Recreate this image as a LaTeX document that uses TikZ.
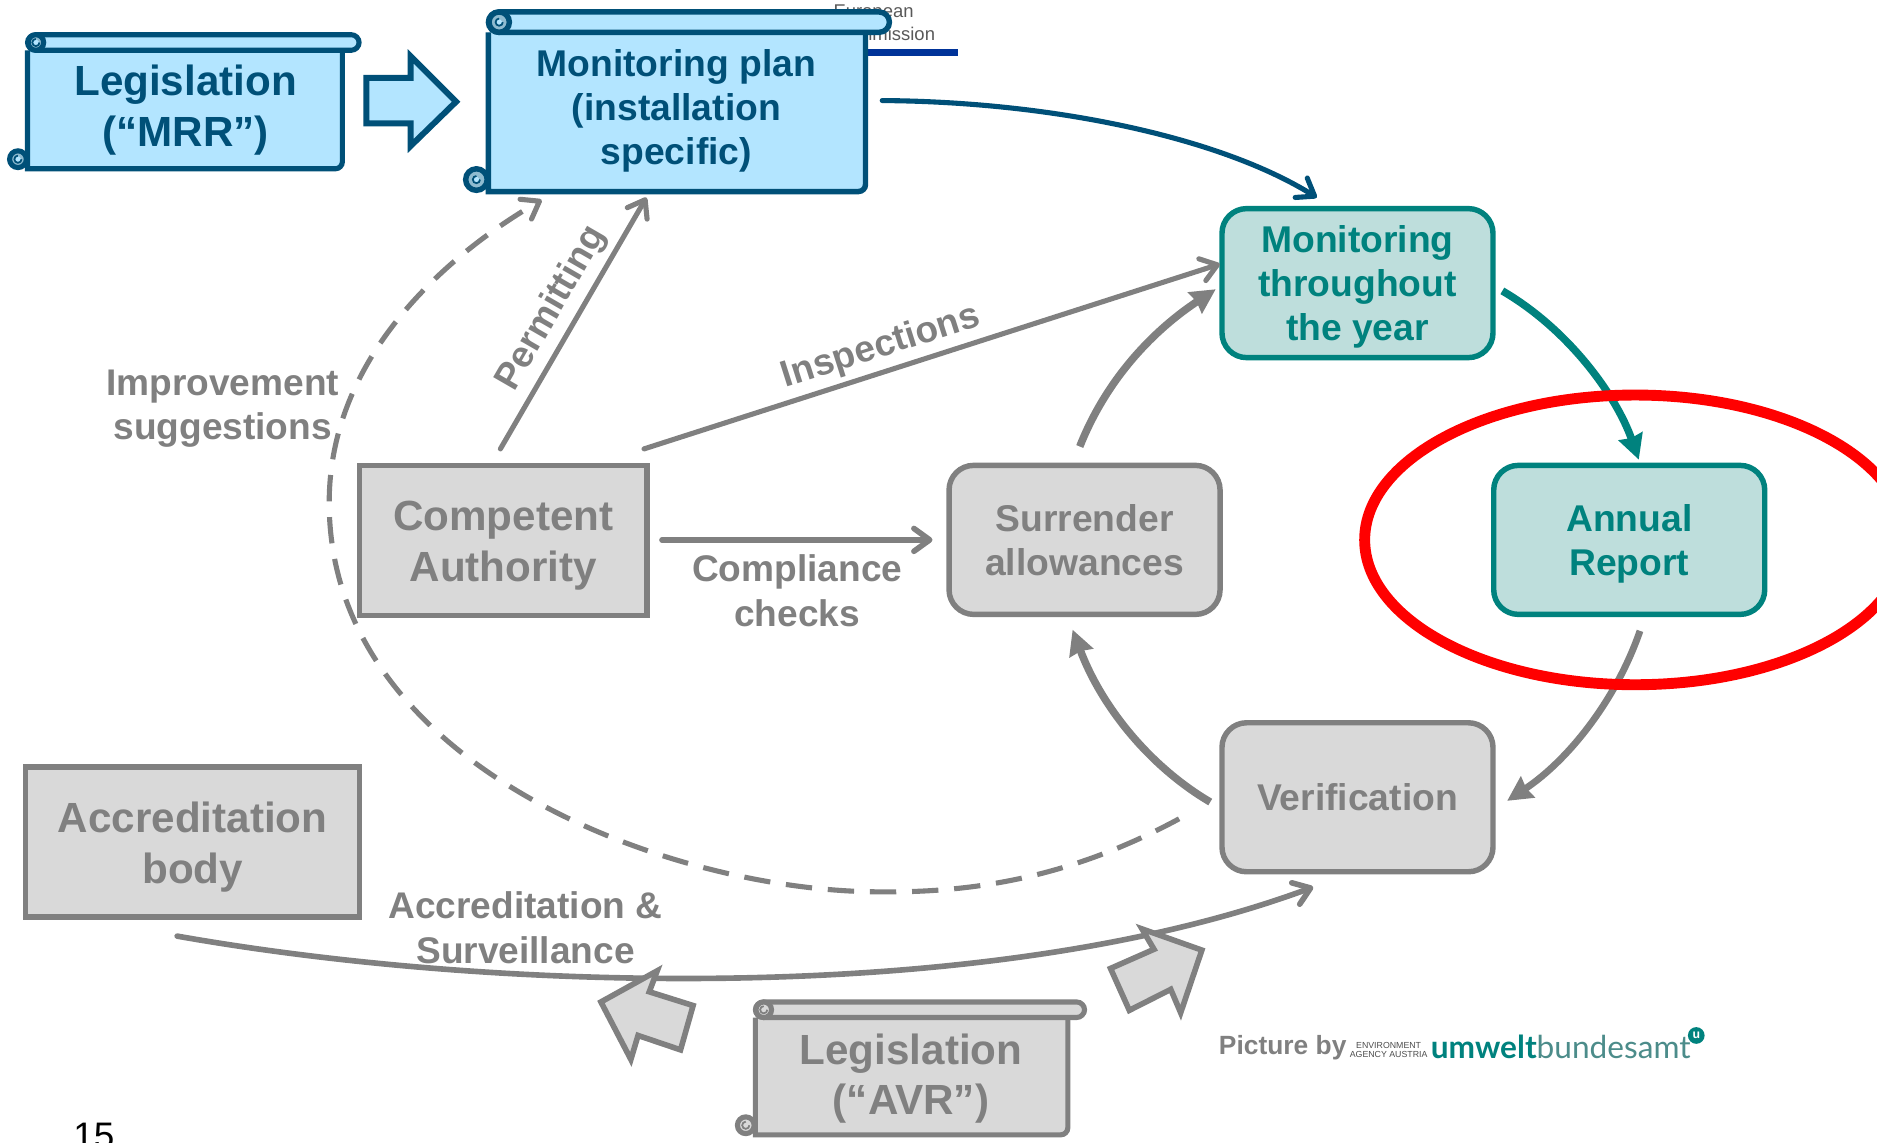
\documentclass[tikz,border=0pt]{standalone}
\usepackage{fontspec}
\setmainfont{Liberation Sans}
\newfontfamily\logofont{Lato}
\usetikzlibrary{arrows.meta}
\definecolor{planblue}{HTML}{005078}
\definecolor{planfill}{HTML}{B3E5FF}
\definecolor{curlblue}{HTML}{8FBBD0}
\definecolor{yeargreen}{HTML}{00827E}
\definecolor{yearfill}{HTML}{BEDEDC}
\definecolor{authgrey}{HTML}{808080}
\definecolor{authfill}{HTML}{D9D9D9}
\definecolor{ecblue}{HTML}{003399}
\def\toppad#1{\rule{0pt}{#1pt}}
\def\scrollshape[#1](#2,#3,#4)(#5,#6,#7)#8#9{%
	\draw[#1] (#2,#4) -- (#2,#7) [rounded corners=4pt] -- (#6,#7) -- (#6,#4);
	\draw[#1,rounded corners=#8*0.65pt] (#2,#3) rectangle (#5,#4);
	\draw[#1,fill=#9] ({#2+#8},{(#3+#4)/2}) circle ({(#4-#3)/2});
	\draw[#1,line width=1pt] ({#2+#8+3},{(#3+#4)/2}) arc (0:270:3);
	\draw[#1,fill=#9] ({#2-#8-1},{#7-#8-1}) circle (#8);
	\draw[#1,line width=1pt] ({#2-#8+2},{#7-#8-1}) arc (0:270:3);
}
\tikzset{
	boxtext/.style={align=center,font=\bfseries\fontsize{21.2}{25.1}\selectfont},
	bigtext/.style={align=center,font=\bfseries\fontsize{24}{28.9}\selectfont},
	edgetext/.style={text=authgrey,align=center,font=\bfseries\fontsize{21.1}{25.1}\selectfont},
	stepgrey/.style={draw=authgrey,fill=authfill,text=authgrey,line width=3.1pt},
	stepgreen/.style={draw=yeargreen,fill=yearfill,text=yeargreen,line width=3.1pt},
	stepround/.style={rounded corners=14pt,minimum width=5.42cm,minimum height=2.98cm,boxtext},
	flow/.style={draw=authgrey,line width=2.9pt,line cap=round,-{Straight Barb[round,length=9pt,width=13pt]}},
	flowbold/.style={draw=authgrey,line width=4.3pt,-{Stealth[inset=1pt,length=14pt,width=14pt]}},
	blockgrey/.style={draw=authgrey,fill=authfill,line width=3.2pt,line join=miter},
}
\begin{document}
\begin{tikzpicture}[x=0.02394cm,y=-0.02394cm]
		%%%%% START %%%%%
		\useasboundingbox (0,0) rectangle (1568,954);
		\clip (0,0) rectangle (1568,954);

		% what shows behind the plan
		\node[text=black!65,align=left,anchor=west,inner sep=0pt,font=\fontsize{10.5}{13.5}\selectfont] (ecname) at (696,19) {European\\Commission};
		\fill[color=ecblue] (723,41) rectangle (800,47);

		% scrolls
		\scrollshape[draw=planblue,fill=planfill,line width=2.9pt](23,29,42)(300,286,141){7}{curlblue}
		\node[bigtext,text=planblue,minimum width=6.2cm,minimum height=2.3cm] (mrr) at (155,92) {Legislation\\(“MRR”)};
		\scrollshape[draw=planblue,fill=planfill,line width=3.1pt](408,10,27)(743,723,160){9}{curlblue}
		\node[boxtext,text=planblue,minimum width=7.4cm,minimum height=3.1cm] (plan) at (565,92.5) {Monitoring plan\\(installation\\specific)};
		\scrollshape[draw=authgrey,fill=authfill,line width=2.9pt](631,837,850)(906,892,948){7}{authfill}
		\node[bigtext,text=authgrey,minimum width=6.1cm,minimum height=2.3cm] (avr) at (761,901) {Legislation\\(“AVR”)};

		% steps
		\node[stepgreen,stepround] (year) at (1134,236.5) {\toppad{19.5}Monitoring\\throughout\\the year};
		\node[stepgreen,stepround] (report) at (1361,451) {\toppad{20.3}Annual\\Report};
		\node[stepgrey,stepround] (surrender) at (906,451) {Surrender\\allowances};
		\node[stepgrey,stepround] (verif) at (1134,666) {Verification};
		\node[stepgrey,bigtext,minimum width=5.75cm,minimum height=3cm] (authority) at (420.5,451.5) {\toppad{22.5}Competent\\Authority};
		\node[stepgrey,bigtext,minimum width=6.68cm,minimum height=3cm] (accred) at (161,703.5) {\toppad{22.9}Accreditation\\body};

		% free ends
		\coordinate (planout) at (737,84);
		\coordinate (yeartop) at (1100,165);
		\coordinate (yearout) at (1255,243);
		\coordinate (reportin) at (1369,384);
		\coordinate (reportout) at (1370,527);
		\coordinate (verifin) at (1259,669);
		\coordinate (verifout) at (1011,670);
		\coordinate (surrin) at (896,526);
		\coordinate (surrout) at (902,373);
		\coordinate (yearin) at (1015.6,241.6);
		\coordinate (yearhit) at (1019,220.6);
		\coordinate (authright) at (538,375);
		\coordinate (authtop) at (418,375);
		\coordinate (planin) at (540,165);
		\coordinate (authout) at (553,451);
		\coordinate (surrleft) at (779,451);
		\coordinate (accout) at (148,782);
		\coordinate (verifbot) at (1097,741);
		\coordinate (verifdash) at (985,684);
		\coordinate (plandash) at (452.5,167);

		% connectors
		\draw[flow,draw=planblue] (planout) .. controls (880,85) and (1020,115) .. (yeartop);
		\draw[flowbold,draw=yeargreen] (yearout) .. controls (1310,275) and (1350,330) .. (reportin);
		\draw[flowbold,line width=3.9pt] (reportout) .. controls (1350,585) and (1310,635) .. (verifin);
		\draw[flowbold] (verifout) .. controls (960,640) and (920,590) .. (surrin);
		\draw[flowbold] (surrout) .. controls (925,315) and (965,275) .. (yearin);
		\draw[flow] (authright) -- (yearhit);
		\draw[flow] (authtop) -- (planin);
		\draw[flow,line width=3.2pt] (authout) -- (surrleft);
		\draw[flow,line width=3.2pt] (accout) .. controls (420,830) and (830,840) .. (verifbot);
		\draw[flow,line cap=butt,dash pattern=on 15pt off 9pt] (verifdash) .. controls (900,730) and (820,746) .. (735,745) .. controls (560,745) and (275,640) .. (275,420) .. controls (275,300) and (370,215) .. (plandash);

		% red ring
		\draw[line width=6.2pt, color=red] (1366,451) ellipse (226 and 121);

		% block arrows
		\draw[draw=planblue,fill=planfill,line width=3.4pt,line join=miter] (306,65) -- (343,65) -- (343,47) -- (381,85) -- (343,122) -- (343,103) -- (306,103) -- cycle;
		\draw[blockgrey] (549,811) -- (502,837) -- (527,885) -- (533,865) -- (568.5,877) -- (579,840) -- (542.4,828.5) -- cycle;
		\draw[blockgrey] (954,776) -- (1004,793.7) -- (986.3,846) -- (978,826.5) -- (943.4,844) -- (927.7,809) -- (964,793) -- cycle;

		% labels
		\node[edgetext,rotate=60] (permit) at (461,258) {Permitting};
		\node[edgetext,rotate=17.6] (inspect) at (736,290) {Inspections};
		\node[edgetext] (improve) at (186,341.5) {Improvement\\suggestions};
		\node[edgetext] (comply) at (666,493.5) {Compliance\\checks};
		\node[edgetext] (survey) at (439,775) {Accreditation \&\\Surveillance};

		% logo
		\node[text=authgrey,anchor=base west,inner sep=0pt,font=\bfseries\fontsize{15}{16}\selectfont] (picby) at (1018,881) {Picture by};
		\node[text=black!70,align=center,inner sep=0pt,font=\fontsize{5}{5.5}\selectfont] (agency) at (1160,877) {ENVIRONMENT\\AGENCY AUSTRIA};
		\node[text=yeargreen,anchor=base west,inner sep=0pt,font=\logofont\fontsize{18}{20}\selectfont] (logoname) at (1195,884) {\textbf{umwelt}\textcolor{yeargreen!70!black!70}{bundesamt}};
		\node[circle,fill=yeargreen,text=white,inner sep=0pt,minimum size=9.5pt,font=\bfseries\fontsize{7}{7}\selectfont] (logou) at (1417,865) {u};

		% page number
		\node[anchor=base west,inner sep=0pt,font=\fontsize{21}{24}\selectfont] (pageno) at (61,959) {15};
		%%%%% END %%%%%
\end{tikzpicture}
\end{document}
